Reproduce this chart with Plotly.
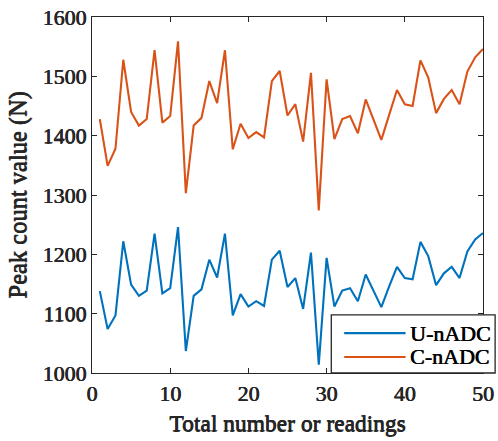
import plotly.graph_objects as go

readings = list(range(1, 51))

u_nadc = [1138, 1074, 1097, 1222, 1149, 1130, 1139, 1235, 1134, 1143,
          1246, 1037, 1130, 1141, 1191, 1161, 1235, 1097, 1133, 1112,
          1121, 1113, 1191, 1206, 1145, 1160, 1108, 1203, 1014, 1194,
          1112, 1139, 1143, 1121, 1166, 1138, 1111, 1146, 1179, 1160,
          1158, 1221, 1197, 1148, 1168, 1179, 1160, 1205, 1225, 1236]

c_nadc = [1428, 1349, 1378, 1528, 1440, 1417, 1428, 1544, 1422, 1433,
          1559, 1303, 1417, 1430, 1492, 1455, 1544, 1377, 1420, 1396,
          1406, 1397, 1492, 1509, 1434, 1453, 1390, 1506, 1274, 1495,
          1394, 1428, 1433, 1404, 1461, 1427, 1393, 1435, 1477, 1453,
          1450, 1527, 1498, 1438, 1462, 1477, 1453, 1508, 1532, 1546]

series_names = ["U-nADC", "C-nADC"]
series_colors = ["#0072BD", "#D95319"]

x_ticks = [0, 10, 20, 30, 40, 50]
y_ticks = [1000, 1100, 1200, 1300, 1400, 1500, 1600]

FONT = "Liberation Serif"
INK = "#262626"
# thickens the thin serif strokes slightly
HEAVY = "0.5px 0px 0px {0}, 0px 0.3px 0px {0}".format(INK)

fig = go.Figure()
for name, vals, color in zip(series_names, [u_nadc, c_nadc], series_colors):
    fig.add_trace(go.Scatter(x=readings, y=vals, mode="lines", name=name,
                             line=dict(color=color, width=2.1),
                             showlegend=False))

axis_common = dict(
    showline=True, linecolor=INK, linewidth=1.3, mirror="allticks",
    ticks="inside", ticklen=5, tickcolor=INK, tickwidth=1.1,
    showgrid=False, zeroline=False, automargin=False,
    tickfont=dict(family=FONT, size=22, color=INK, shadow=HEAVY),
)

fig.update_xaxes(range=[0, 50], tickvals=x_ticks,
                 title=dict(text="Total number or readings",
                            font=dict(family=FONT, size=23.5, color=INK, shadow=HEAVY),
                            standoff=10),
                 **axis_common)
fig.update_yaxes(range=[1000, 1600], tickvals=y_ticks,
                 title=dict(text="Peak count value (N)",
                            font=dict(family=FONT, size=24.5, color=INK, shadow=HEAVY),
                            standoff=8),
                 **axis_common)

# Boxed legend in the lower-right corner, overhanging the right axis
box_x0, box_x1, box_y0, box_y1 = 0.612, 1.031, 0.0, 0.163
shapes = [dict(type="rect", xref="paper", yref="paper",
               x0=box_x0, x1=box_x1, y0=box_y0, y1=box_y1,
               fillcolor="white", line=dict(color=INK, width=1.3), layer="above")]
annotations = []
row_y = [0.112, 0.045]
for name, color, yy in zip(series_names, series_colors, row_y):
    shapes.append(dict(type="line", xref="paper", yref="paper",
                       x0=0.645, x1=0.802, y0=yy, y1=yy,
                       line=dict(color=color, width=2.1), layer="above"))
    annotations.append(dict(xref="paper", yref="paper", x=0.808, y=yy,
                            xanchor="left", yanchor="middle", showarrow=False,
                            text=name,
                            font=dict(family=FONT, size=22, color="black", shadow=HEAVY)))

fig.update_layout(
    width=498, height=441,
    margin=dict(l=92, r=15, t=17, b=68),
    paper_bgcolor="white", plot_bgcolor="white",
    font=dict(family=FONT),
    showlegend=False,
    shapes=shapes, annotations=annotations,
)

fig.write_html("out.html")
